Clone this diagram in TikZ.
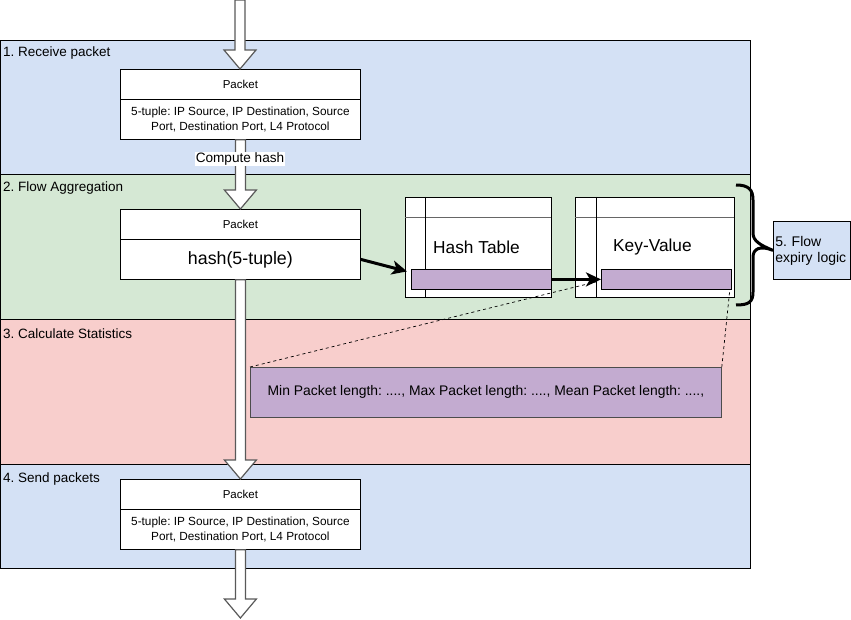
\documentclass[tikz,border=0pt]{standalone}
\usepackage{fontspec}
\setmainfont{Liberation Sans}
\usetikzlibrary{calc,arrows.meta}
\definecolor{laneblue}{HTML}{D4E1F5}
\definecolor{lanegreen}{HTML}{D5E8D4}
\definecolor{lanered}{HTML}{F8CECC}
\definecolor{rowpurple}{HTML}{C3ABD0}
\frenchspacing
\newcommand\blockarrow[2]{\path let \p1=(#1), \p2=(#2) in [blockarr] (\x1-5pt,\y1) -- (\x1-5pt,\y2+19pt) -- (\x1-16pt,\y2+19pt) -- (\x1,\y2) -- (\x1+16pt,\y2+19pt) -- (\x1+5pt,\y2+19pt) -- (\x1+5pt,\y1) -- cycle;}
\begin{document}
\begin{tikzpicture}[x=1pt,y=-1pt,
  lane/.style={draw=black, line width=0.8pt, anchor=north west, inner sep=0, minimum width=750pt},
  lanelabel/.style={anchor=west, inner sep=0, font=\fontsize{13.5}{15}\selectfont},
  pkthead/.style={draw=black, fill=white, line width=0.8pt, minimum width=240pt, minimum height=30pt, inner sep=0, anchor=north west, font=\fontsize{11.5}{13}\selectfont},
  pktbody/.style={draw=black, fill=white, line width=0.8pt, minimum width=240pt, minimum height=40pt, inner sep=0, anchor=north west, align=center, font=\fontsize{11.8}{15}\selectfont},
  blockarr/.style={draw=black!65, fill=white, line width=1.2pt, line join=miter},
  tbl/.style={draw=black, fill=white, line width=0.8pt, anchor=north west, inner sep=0, minimum height=100pt},
  tblrow/.style={draw=black, fill=rowpurple, line width=0.8pt, anchor=north west, inner sep=0, minimum height=20pt},
  tbltext/.style={anchor=west, inner sep=0, font=\fontsize{17.3}{20}\selectfont},
  thick arrow/.style={draw=black, line width=3pt, -{Stealth[length=15pt,width=14pt,inset=4pt]}},
  dashline/.style={draw=black, dashed, line width=0.7pt}
]
\useasboundingbox (0,0) rectangle (851,620);
% lanes
\node[lane, fill=laneblue, minimum height=134pt] (lane1) at (0,40) {};
\node[lane, fill=lanegreen, minimum height=145pt] (lane2) at (0,174) {};
\node[lane, fill=lanered, minimum height=145pt] (lane3) at (0,319) {};
\node[lane, fill=laneblue, minimum height=104pt] (lane4) at (0,464) {};
\node[lanelabel] (l1) at (3,53) {1. Receive packet};
\node[lanelabel] (l2) at (3,188) {2. Flow Aggregation};
\node[lanelabel] (l3) at (3,334) {3. Calculate Statistics};
\node[lanelabel] (l4) at (3,479) {4. Send packets};
% packets
\node[pkthead] (p1h) at (120,69) {Packet};
\node[pktbody] (p1b) at (120,99) {5-tuple: IP Source, IP Destination, Source\\Port, Destination Port, L4 Protocol};
\node[pkthead] (p2h) at (120,209) {Packet};
\node[pktbody, font=\fontsize{17.8}{20}\selectfont] (p2b) at (120,239) {hash(5-tuple)};
\node[pkthead] (p3h) at (120,479) {Packet};
\node[pktbody] (p3b) at (120,509) {5-tuple: IP Source, IP Destination, Source\\Port, Destination Port, L4 Protocol};
\coordinate (in0) at (240,0);
\coordinate (out0) at (240,618);
% block arrows
\blockarrow{in0}{p1h.north}
\blockarrow{p1b.south}{p2h.north}
\blockarrow{p2b.south}{p3h.north}
\blockarrow{p3b.south}{out0}
\node[fill=white, inner sep=1pt, font=\fontsize{13.6}{15}\selectfont] (ch) at (240,159) {Compute hash};
% hash table
\node[tbl, minimum width=146pt] (ht) at (405,197) {};
\draw[black!60, line width=0.8pt] (405,217) -- (551,217);
\draw[black, line width=0.8pt] (425,197) -- (425,297);
\node[tbltext] (htt) at (433,247) {Hash Table};
\node[tblrow, minimum width=140pt] (htrow) at (411,269) {};
% key-value
\node[tbl, minimum width=159pt] (kv) at (575,197) {};
\draw[black!60, line width=0.8pt] (575,217) -- (734,217);
\draw[black, line width=0.8pt] (596,197) -- (596,297);
\node[tbltext] (kvt) at (613,247) {Key-Value};
\node[tblrow, minimum width=130pt] (kvrow) at (601,269) {};
% stats
\node[draw=black!70, fill=rowpurple, line width=0.8pt, anchor=north west, inner sep=0, minimum width=471pt, minimum height=50pt, font=\fontsize{13.9}{15}\selectfont] (stats) at (250,367) {Min Packet length: ...., Max Packet length: ...., Mean Packet length: ....,};
\draw[dashline] (stats.north west) -- ($(kvrow.west)+(-3,2)$);
\draw[dashline] (stats.north east) -- ($(kvrow.south east)+(-2,0)$);
% thick arrows
\draw[thick arrow] (p2b.east) -- ($(htrow.west)+(-4,-8)$);
\draw[thick arrow] (htrow.east) -- (kvrow.west);
% box 5 and brace
\node[draw=black, fill=laneblue, line width=0.8pt, anchor=north west, inner sep=2pt, text width=73pt, minimum height=58pt, align=left, font=\fontsize{14}{16}\selectfont] (b5) at (773,221) {5. Flow\\expiry logic};
\draw[black, line width=3pt] (736,185) .. controls (749,185) and (753,190) .. (753,200) -- (753,233) .. controls (753,241) and (760,245) .. (b5.west) .. controls (760,245) and (753,249) .. (753,257) -- (753,292) .. controls (753,302) and (749,305) .. (736,305);
\end{tikzpicture}
\end{document}
